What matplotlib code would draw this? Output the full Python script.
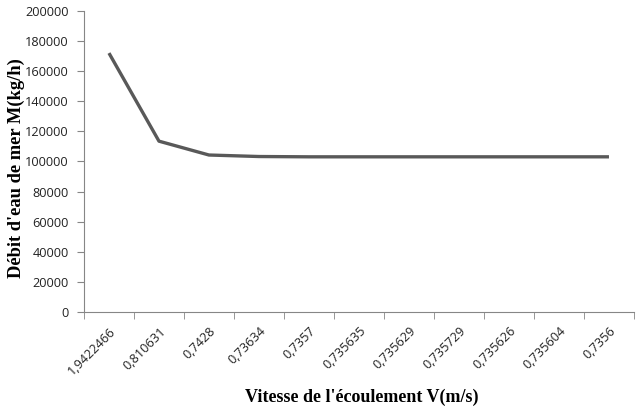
import matplotlib
matplotlib.use('Agg')
import matplotlib.pyplot as plt
import numpy as np

vitesse = ['1,9422466', '0,810631', '0,7428', '0,73634', '0,7357', '0,735635',
           '0,735629', '0,735729', '0,735626', '0,735604', '0,7356']
debit = [172000, 113500, 104300, 103300, 103100, 103100, 103100, 103100, 103100, 103100, 103100]

fig = plt.figure(figsize=(6.42, 4.2), dpi=100)
ax = fig.add_axes([0.1308, 0.257, 0.8567, 0.717])

x = np.arange(len(vitesse))
ax.plot(x, debit, color='#595959', lw=2.4, solid_capstyle='butt')

ax.set_xlim(-0.5, len(vitesse) - 0.5)
ax.set_ylim(0, 200000)
ax.set_yticks(np.arange(0, 200001, 20000))
ax.set_yticklabels([str(v) for v in range(0, 200001, 20000)])

ax.set_xticks(x)
ax.set_xticklabels(vitesse, rotation=45, ha='right', va='top', rotation_mode='anchor')
ax.set_xticks(np.arange(-0.5, len(vitesse)), minor=True)
ax.tick_params(axis='x', which='major', length=0, pad=9)
ax.tick_params(axis='x', which='minor', length=5, color='#868686')
ax.tick_params(axis='y', length=5, color='#868686', pad=6)
for lab in ax.get_xticklabels() + ax.get_yticklabels():
    lab.set_fontsize(9.2)
    lab.set_fontfamily('Open Sans')
    lab.set_color('#222222')

for s in ['top', 'right']:
    ax.spines[s].set_visible(False)
for s in ['left', 'bottom']:
    ax.spines[s].set_color('#868686')

fig.text(0.563, 0.055, "Vitesse de l'écoulement V(m/s)", ha='center', va='center',
         family='Liberation Serif', weight='bold', fontsize=13)
fig.text(0.025, 0.6, "Débit d'eau de mer M(kg/h)", ha='center', va='center', rotation=90,
         family='Liberation Serif', weight='bold', fontsize=13.3)

fig.savefig('out.png', dpi=100)
